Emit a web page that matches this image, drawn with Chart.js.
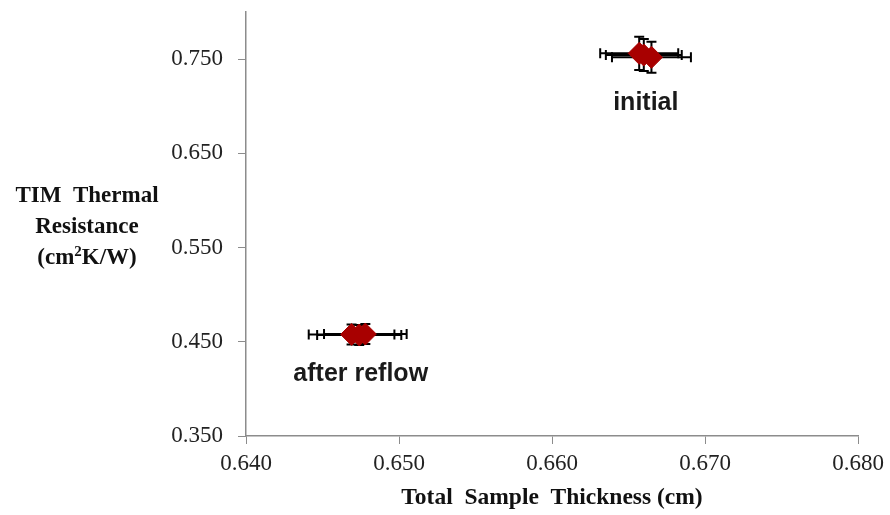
<!DOCTYPE html>
<html>
<head>
<meta charset="utf-8">
<script src="https://cdn.jsdelivr.net/npm/chart.js@4"></script>
<style>
  html, body { margin: 0; padding: 0; background: #fff; }
  #wrap { width: 890px; height: 515px; }
</style>
</head>
<body>
<div id="wrap"><canvas id="grafica" width="890" height="515"></canvas></div>
<script>
// datos
const initialX = [0.6657, 0.6660, 0.6665];
const initialY = [0.7561, 0.7543, 0.7519];
const initialXErr = [0.00255, 0.00248, 0.00258];
const initialYErr = [0.0177, 0.0170, 0.0165];

const reflowX = [0.6469, 0.6474, 0.6478];
const reflowY = [0.4578, 0.4572, 0.4582];
const reflowXErr = [0.0028, 0.00275, 0.0027];
const reflowYErr = [0.0106, 0.0106, 0.0106];

const yTicks = [0.35, 0.45, 0.55, 0.65, 0.75];
const groupLabels = ["initial", "after reflow"];
const yTitle = ["TIM  Thermal", "Resistance"];
const yUnidad = ["(cm", "2", "K/W)"];
const xTitle = "Total  Sample  Thickness (cm)";

function puntos(xs, ys, xe, ye) {
  return xs.map((x, i) => ({ x: x, y: ys[i], xe: xe[i], ye: ye[i] }));
}

const serie1 = puntos(initialX, initialY, initialXErr, initialYErr);
const serie2 = puntos(reflowX, reflowY, reflowXErr, reflowYErr);

// barras de error dibujadas con las escalas del grafico
const errorBars = {
  id: "errorBars",
  beforeDatasetsDraw(chart) {
    const ctx = chart.ctx;
    const sx = chart.scales.x, sy = chart.scales.y;
    const cap = 5;
    ctx.save();
    ctx.strokeStyle = "#000";
    ctx.lineWidth = 2;
    chart.data.datasets.forEach(ds => {
      ds.data.forEach(p => {
        const px = sx.getPixelForValue(p.x), py = sy.getPixelForValue(p.y);
        const x1 = sx.getPixelForValue(p.x - p.xe), x2 = sx.getPixelForValue(p.x + p.xe);
        const y1 = sy.getPixelForValue(p.y + p.ye), y2 = sy.getPixelForValue(p.y - p.ye);
        ctx.beginPath();
        ctx.moveTo(x1, py); ctx.lineTo(x2, py);
        ctx.moveTo(x1, py - cap); ctx.lineTo(x1, py + cap);
        ctx.moveTo(x2, py - cap); ctx.lineTo(x2, py + cap);
        ctx.moveTo(px, y1); ctx.lineTo(px, y2);
        ctx.moveTo(px - cap, y1); ctx.lineTo(px + cap, y1);
        ctx.moveTo(px - cap, y2); ctx.lineTo(px + cap, y2);
        ctx.stroke();
      });
    });
    ctx.restore();
  }
};

// textos: etiquetas de grupo y titulos de ejes
const textos = {
  id: "textos",
  afterDraw(chart) {
    const ctx = chart.ctx;
    const sx = chart.scales.x, sy = chart.scales.y;
    ctx.save();
    ctx.textAlign = "center";
    ctx.textBaseline = "middle";
    ctx.fillStyle = "#1a1a1a";
    ctx.font = "bold 25px 'Liberation Sans', Arial, sans-serif";
    const media = a => a.reduce((s, v) => s + v, 0) / a.length;
    ctx.fillText(groupLabels[0], sx.getPixelForValue(media(initialX)) + 1, sy.getPixelForValue(media(initialY)) + 48);
    ctx.fillText(groupLabels[1], sx.getPixelForValue(media(reflowX)) + 2, sy.getPixelForValue(media(reflowY)) + 40);

    ctx.fillStyle = "#111";
    const serif = "'Liberation Serif', 'Times New Roman', serif";
    ctx.font = "bold 23px " + serif;
    ctx.fillText(yTitle[0], 87, 196);
    ctx.fillText(yTitle[1], 87, 227);

    // (cm2K/W) con el 2 como superindice
    const fGrande = "bold 23px " + serif, fChica = "bold 15px " + serif;
    ctx.font = fGrande;
    const w1 = ctx.measureText(yUnidad[0]).width, w3 = ctx.measureText(yUnidad[2]).width;
    ctx.font = fChica;
    const w2 = ctx.measureText(yUnidad[1]).width;
    let x0 = 87 - (w1 + w2 + w3) / 2;
    ctx.textAlign = "left";
    ctx.textBaseline = "alphabetic";
    const base = 264;
    ctx.font = fGrande; ctx.fillText(yUnidad[0], x0, base); x0 += w1;
    ctx.font = fChica; ctx.fillText(yUnidad[1], x0, base - 8); x0 += w2;
    ctx.font = fGrande; ctx.fillText(yUnidad[2], x0, base);

    ctx.textAlign = "center";
    ctx.textBaseline = "middle";
    ctx.font = "bold 23.5px " + serif;
    ctx.fillText(xTitle, 552, 498);
    ctx.restore();
  }
};

const fuenteTicks = { family: "'Liberation Serif', 'Times New Roman', serif", size: 23 };

function sinRelleno(s) {
  s.paddingTop = 0; s.paddingBottom = 0; s.paddingLeft = 0; s.paddingRight = 0;
}

new Chart(document.getElementById("grafica"), {
  type: "scatter",
  data: {
    datasets: [
      { label: "initial", data: serie1 },
      { label: "after reflow", data: serie2 }
    ]
  },
  options: {
    responsive: false,
    animation: false,
    devicePixelRatio: 1,
    layout: { padding: { top: 12, right: 32, left: 0, bottom: 0 } },
    elements: {
      point: {
        pointStyle: "rectRot",
        radius: 11,
        backgroundColor: "#a80000",
        borderColor: "#a80000",
        borderWidth: 1
      }
    },
    plugins: {
      legend: { display: false },
      tooltip: { enabled: false }
    },
    scales: {
      x: {
        type: "linear",
        min: 0.64,
        max: 0.68,
        ticks: {
          stepSize: 0.01,
          padding: 6,
          color: "#222",
          font: fuenteTicks,
          callback: v => v.toFixed(3)
        },
        grid: { drawOnChartArea: false, tickLength: 8, color: "#8c8c8c" },
        border: { color: "#8c8c8c", width: 1.5 },
        afterFit: s => { s.height = 79; sinRelleno(s); }
      },
      y: {
        type: "linear",
        min: 0.35,
        max: 0.8,
        afterBuildTicks: s => { s.ticks = yTicks.map(v => ({ value: v })); },
        ticks: {
          padding: 15,
          color: "#222",
          font: fuenteTicks,
          callback: v => v.toFixed(3)
        },
        grid: { drawOnChartArea: false, tickLength: 8, color: "#8c8c8c" },
        border: { color: "#8c8c8c", width: 1.5 },
        afterFit: s => { s.width = 246; sinRelleno(s); }
      }
    }
  },
  plugins: [errorBars, textos]
});
</script>
</body>
</html>
